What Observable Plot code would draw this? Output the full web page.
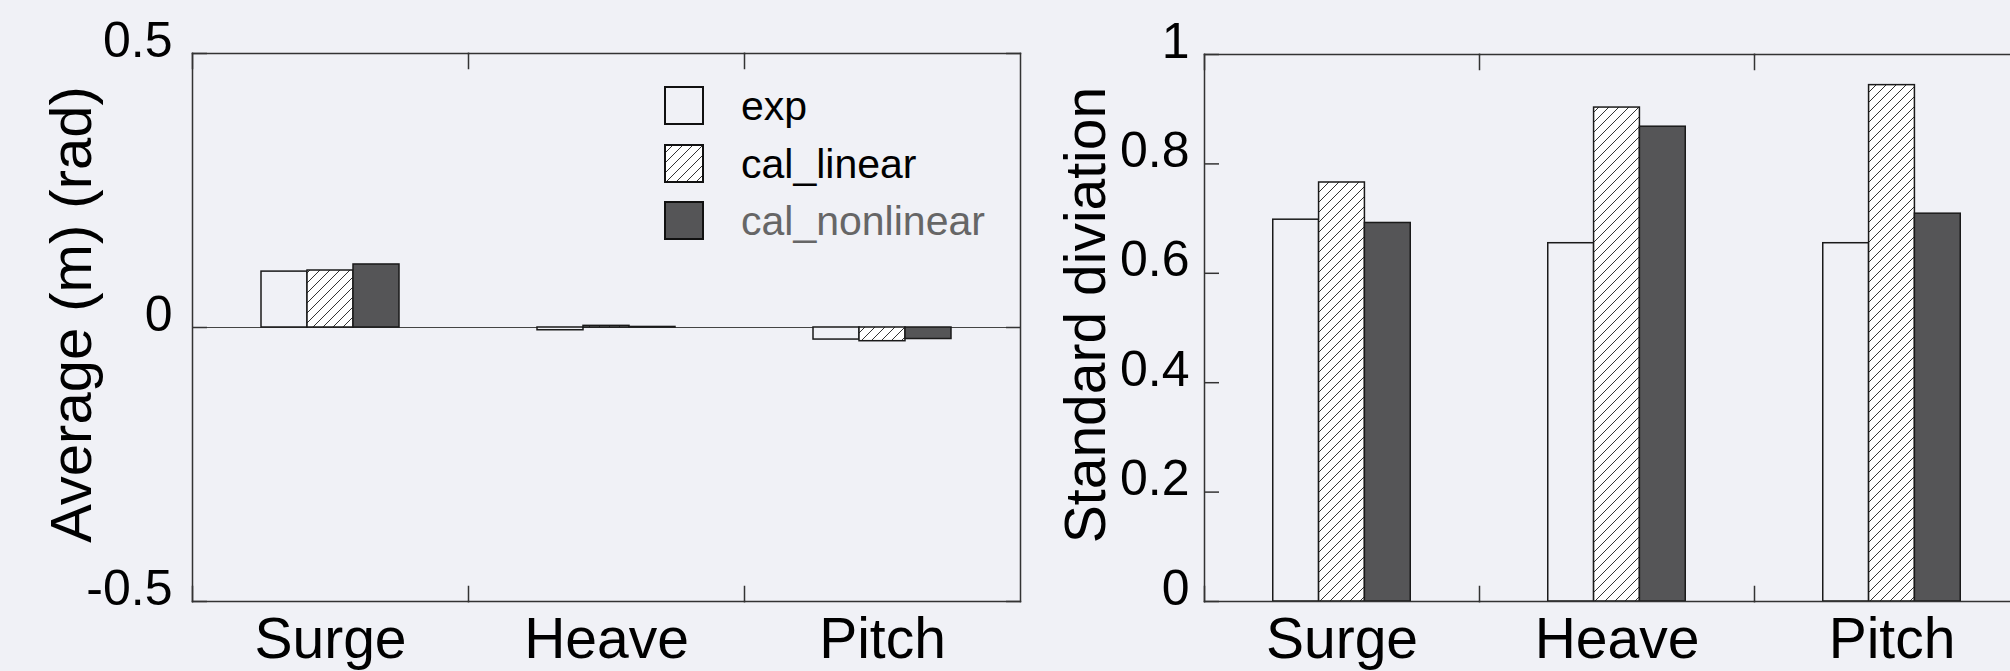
<!DOCTYPE html>
<html>
<head>
<meta charset="utf-8">
<script src="https://cdn.jsdelivr.net/npm/d3@7"></script>
<script src="https://cdn.jsdelivr.net/npm/@observablehq/plot@0.6"></script>
<style>
  html, body { margin: 0; padding: 0; width: 2010px; height: 671px; overflow: hidden; background: #f0f1f6; }
  #wrap { position: relative; width: 2010px; height: 671px; overflow: hidden; }
  .chart { position: absolute; top: 0; }
  .legend-row { position: absolute; font-family: "Liberation Sans", Arial, sans-serif; font-size: 41px; line-height: 40px; white-space: nowrap; }
  .legend-row svg { position: absolute; left: 0; top: 0; }
  .legend-row span { position: absolute; left: 77px; top: 0px; }
</style>
</head>
<body>
<svg width="0" height="0" style="position:absolute">
  <defs>
    <pattern id="hatch" patternUnits="userSpaceOnUse" width="10" height="10">
      <rect width="10" height="10" fill="#ffffff"></rect>
      <path d="M-2,2 L2,-2 M0,10 L10,0 M8,12 L12,8" stroke="#333" stroke-width="1"></path>
    </pattern>
  </defs>
</svg>
<div id="wrap"></div>
<script>
// ---- data ----
const categories = ["Surge", "Heave", "Pitch"];
const series = ["exp", "cal_linear", "cal_nonlinear"];

const avgExp       = [0.102, -0.005, -0.022];
const avgLinear    = [0.104,  0.003, -0.025];
const avgNonlinear = [0.115,  0.001, -0.021];

const stdExp       = [0.698, 0.655, 0.655];
const stdLinear    = [0.766, 0.903, 0.944];
const stdNonlinear = [0.692, 0.868, 0.709];

const avgTicks = [-0.5, 0, 0.5];
const avgTickLabels = ["-0.5", "0", "0.5"];
const stdTicks = [0, 0.2, 0.4, 0.6, 0.8, 1];
const stdTickLabels = ["0", "0.2", "0.4", "0.6", "0.8", "1"];

const avgTitle = "Average (m) (rad)";
const stdTitle = "Standard diviation";

// ---- styles ----
const BG = "#f0f1f6";
const fills = [BG, "url(#hatch)", "#555557"];
const legendTextColors = ["#000", "#000", "#666"];
const FONT = "'Liberation Sans', Arial, Helvetica, sans-serif";

function toRows(arrays) {
  return categories.flatMap((c, i) => series.map((s, j) => ({category: c, series: s, value: arrays[j][i]})));
}

function makeChart({rows, yDomain, ticks, tickLabels, title, titleSize, titleBaseline, marginLeft, marginRight, marginTop, width, zeroLine, tickPad}) {
  const height = 671, marginBottom = 70;
  const facetH = height - marginTop - marginBottom;
  const fmt = d => tickLabels[ticks.indexOf(d)];
  const marks = [];
  if (zeroLine) marks.push(Plot.ruleY([0], {stroke: "#444", strokeWidth: 1}));
  series.forEach((s, j) => {
    marks.push(Plot.barY(rows.filter(d => d.series === s), {
      fx: "category", x: "series", y: "value",
      fill: fills[j], stroke: "#1a1a1a", strokeWidth: 1.5
    }));
  });
  marks.push(
    // frame edges
    Plot.frame({anchor: "top", stroke: "#333", strokeWidth: 1.5}),
    Plot.frame({anchor: "bottom", stroke: "#333", strokeWidth: 1.5}),
    Plot.frame({anchor: "left", facetAnchor: "left", stroke: "#333", strokeWidth: 1.5}),
    Plot.frame({anchor: "right", facetAnchor: "right", stroke: "#333", strokeWidth: 1.5}),
    // inward category boundary ticks (top and bottom)
    Plot.frame({anchor: "left", insetBottom: facetH - 15, stroke: "#333", strokeWidth: 1.5}),
    Plot.frame({anchor: "left", insetTop: facetH - 15, stroke: "#333", strokeWidth: 1.5}),
    // inward y ticks
    Plot.axisY({anchor: "left", ticks, tickSize: -15, tickFormat: () => "", stroke: "#333", strokeWidth: 1.5, label: null}),
    Plot.axisY({anchor: "right", ticks, tickSize: -15, tickFormat: () => "", stroke: "#333", strokeWidth: 1.5, label: null}),
    // y tick labels
    Plot.axisY({anchor: "left", ticks, tickSize: 0, tickPadding: tickPad, tickFormat: fmt, fontSize: 50, dy: -13, fill: "#000", label: null}),
    // category labels
    Plot.axisFx({anchor: "bottom", tickSize: 0, tickPadding: 16, fontSize: 57, fill: "#000", label: null}),
    // y title
    Plot.text([title], {text: d => d, frameAnchor: "left", facetAnchor: "left", textAnchor: "middle", rotate: -90,
      dx: -(marginLeft - titleBaseline + 0.32 * titleSize), dy: -13, fontSize: titleSize, fill: "#000"})
  );
  return Plot.plot({
    width, height, marginLeft, marginRight, marginTop, marginBottom,
    style: {background: "transparent", fontFamily: FONT, color: "#000", overflow: "visible"},
    fx: {domain: categories, padding: 0, label: null},
    x: {domain: series, paddingInner: 0, paddingOuter: 1.5, round: false, axis: null},
    y: {domain: yDomain, axis: null, label: null},
    marks
  });
}

const wrap = document.getElementById("wrap");

const left = makeChart({
  rows: toRows([avgExp, avgLinear, avgNonlinear]),
  yDomain: [-0.5, 0.5], ticks: avgTicks, tickLabels: avgTickLabels, title: avgTitle, titleSize: 58, titleBaseline: 90,
  marginLeft: 192, marginRight: 20, marginTop: 53, width: 1040, zeroLine: true, tickPad: 20
});
left.classList.add("chart");
left.style.left = "0px";
wrap.appendChild(left);

const right = makeChart({
  rows: toRows([stdExp, stdLinear, stdNonlinear]),
  yDomain: [0, 1], ticks: stdTicks, tickLabels: stdTickLabels, title: stdTitle, titleSize: 57, titleBaseline: 103,
  marginLeft: 203, marginRight: 23.5, marginTop: 54, width: 1053, zeroLine: false, tickPad: 15
});
right.classList.add("chart");
right.style.left = "1000px";
wrap.appendChild(right);

// ---- legend ----
const legendTops = [86, 144, 201];
series.forEach((s, j) => {
  const row = document.createElement("div");
  row.className = "legend-row";
  row.style.left = "664px";
  row.style.top = legendTops[j] + "px";
  row.innerHTML = `<svg width="40" height="40"><rect x="1" y="1" width="38" height="37" fill="${fills[j]}" stroke="#111" stroke-width="2"></rect></svg><span style="color:${legendTextColors[j]}">${s}</span>`;
  wrap.appendChild(row);
});
</script>
</body>
</html>
